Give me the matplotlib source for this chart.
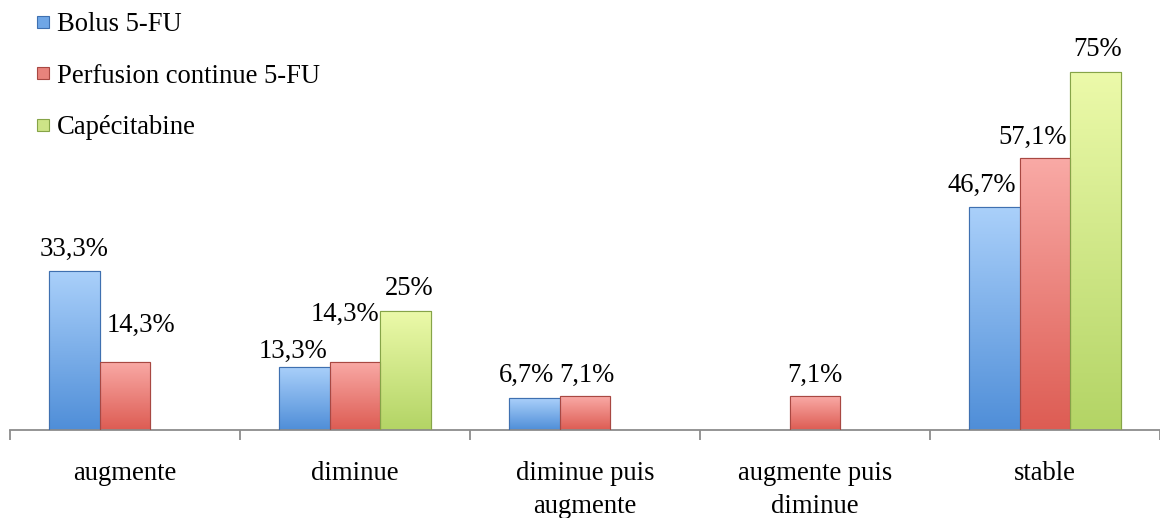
import numpy as np
import matplotlib
matplotlib.use("Agg")
import matplotlib.pyplot as plt
from matplotlib.colors import LinearSegmentedColormap
from matplotlib.lines import Line2D

categories = ["augmente", "diminue", "diminue puis\naugmente", "augmente puis\ndiminue", "stable"]
series_names = ["Bolus 5-FU", "Perfusion continue 5-FU", "Capécitabine"]
bolus = [33.3, 13.3, 6.7, 0, 46.7]
perfusion = [14.3, 14.3, 7.1, 7.1, 57.1]
capecitabine = [0, 25, 0, 0, 75]
values = [bolus, perfusion, capecitabine]

# label offsets in pixels (dx, dy above bar top to baseline)
label_offsets = [
    [(0, 15), (-11, 9), (-8, 16), (0, 15), (-12, 15)],
    [(16, 30), (-10, 41), (2, 14), (0, 14), (-12, 14)],
    [(0, 15), (3, 16), (0, 15), (0, 15), (2, 16)],
]

tops = ["#aad0fa", "#f9aaa6", "#ecfaaa"]
bottoms = ["#4f8ed8", "#dd5c53", "#b3d465"]
edges = ["#3f70b0", "#a84842", "#86a448"]
mids = ["#6fa6e6", "#e8837c", "#cde487"]

plt.rcParams['font.family'] = ['Liberation Serif', 'DejaVu Serif']
FS = 19.2

W, H = 1160, 518
fig = plt.figure(figsize=(W / 100, H / 100), dpi=100)
ax = fig.add_axes([10 / W, (H - 430) / H, 1150 / W, 430 / H])

scale = 4.77
ymax = 430 / scale
x = np.arange(len(categories))
bw = 0.2217
offs = [-bw, 0, bw]

grad = np.linspace(0, 1, 256).reshape(-1, 1)
for s, vals in enumerate(values):
    cmap = LinearSegmentedColormap.from_list("g%d" % s, [bottoms[s], tops[s]])
    bars = ax.bar(x + offs[s], vals, bw, color=mids[s], edgecolor=edges[s],
                  linewidth=0.8, zorder=2)
    for i, (b, v) in enumerate(zip(bars, vals)):
        if v <= 0:
            b.set_visible(False)
            continue
        x0 = b.get_x()
        im = ax.imshow(grad, cmap=cmap, origin="lower", aspect="auto",
                       extent=[x0, x0 + bw, 0, v], zorder=2.5)
        im.set_clip_path(b)
        dx, dy = label_offsets[s][i]
        ax.annotate(("%g" % v).replace(".", ",") + "%", (x[i] + offs[s], v),
                    xytext=(dx, dy), textcoords="offset pixels",
                    ha="center", va="baseline", fontsize=FS, zorder=4)
        ax.add_patch(plt.Rectangle((x0, 0), bw, v, fill=False,
                                   edgecolor=edges[s], linewidth=0.8, zorder=3))

ax.set_xlim(-0.5, len(categories) - 0.5)
ax.set_ylim(0, ymax)
for sp in ["top", "left", "right"]:
    ax.spines[sp].set_visible(False)
ax.spines["bottom"].set_color("#8c8c8c")
ax.spines["bottom"].set_linewidth(1.3)
ax.set_yticks([])
ax.set_xticks(x)
ax.set_xticklabels(categories, fontsize=FS, linespacing=1.45)
ax.set_xticks(np.arange(len(categories) + 1) - 0.5, minor=True)
ax.tick_params(axis="x", which="major", length=0, pad=22)
ax.tick_params(axis="x", which="minor", length=7, width=1.3, color="#8c8c8c", direction="out")

handles = [Line2D([], [], linestyle="none", marker="s", markersize=9,
                  markerfacecolor=mids[s], markeredgecolor=edges[s], markeredgewidth=0.8)
           for s in range(3)]
fig.legend(handles, series_names, loc="upper left", bbox_to_anchor=(34 / W, 1 - 12 / H),
           frameon=False, fontsize=FS, handlelength=0.7, handletextpad=0.15,
           labelspacing=1.0, borderpad=0, borderaxespad=0)

fig.savefig("out.png", dpi=100)
